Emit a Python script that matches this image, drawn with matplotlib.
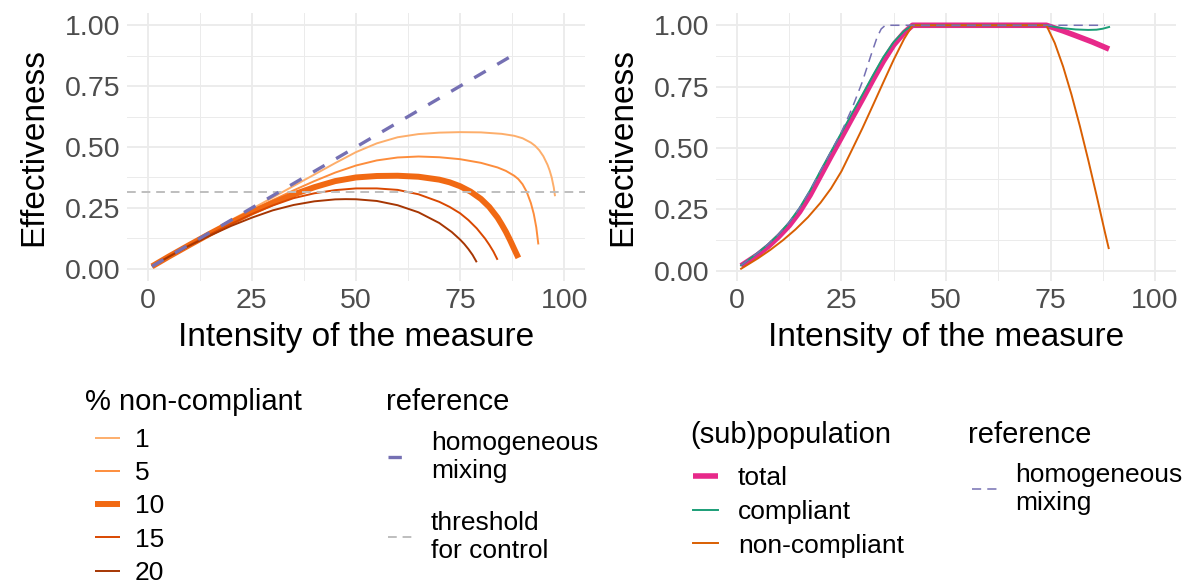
import matplotlib
matplotlib.use("Agg")
import matplotlib.pyplot as plt
from matplotlib.ticker import MultipleLocator

plt.rcParams["font.family"] = ["Liberation Sans", "DejaVu Sans"]

# ---- left panel: effectiveness by % non-compliant ----
nc_levels = ["1", "5", "10", "15", "20"]
nc_colors = ["#FDAE6B", "#FD8D3C", "#F16913", "#D94801", "#A63603"]
nc_widths = [1.4, 1.4, 4.3, 1.4, 1.4]

nc1_x = [1, 5, 10, 15, 20, 25, 30, 35, 40, 45, 50, 55, 60, 65, 70, 75, 80, 85, 88, 90,
         92, 93, 94, 95, 96, 96.5, 97, 97.5, 97.8]
nc1_y = [0.01, 0.05, 0.10, 0.15, 0.20, 0.246, 0.293, 0.34, 0.387, 0.434, 0.479, 0.515, 0.54,
         0.553, 0.559, 0.561, 0.56, 0.554, 0.546, 0.536, 0.518, 0.505, 0.487, 0.462, 0.427,
         0.404, 0.375, 0.334, 0.298]
nc5_x = [1, 5, 10, 15, 20, 25, 30, 35, 40, 45, 50, 55, 60, 65, 70, 75, 80, 84, 86, 88, 89,
         90, 91, 92, 92.7, 93.3, 93.8]
nc5_y = [0.01, 0.05, 0.10, 0.148, 0.195, 0.24, 0.282, 0.322, 0.36, 0.395, 0.424, 0.445,
         0.457, 0.461, 0.458, 0.45, 0.435, 0.416, 0.402, 0.382, 0.368, 0.347, 0.316, 0.27,
         0.225, 0.17, 0.10]
nc10_x = [1, 5, 10, 15, 20, 25, 30, 35, 40, 45, 50, 55, 60, 65, 70, 72.5, 75, 77.5, 80, 82,
          84, 85, 86, 87, 88, 89]
nc10_y = [0.01, 0.05, 0.098, 0.145, 0.19, 0.232, 0.27, 0.305, 0.335, 0.36, 0.375, 0.381,
          0.382, 0.378, 0.366, 0.355, 0.339, 0.317, 0.287, 0.254, 0.21, 0.182, 0.152, 0.118,
          0.081, 0.045]
nc15_x = [1, 5, 10, 15, 20, 25, 30, 35, 40, 45, 50, 55, 60, 65, 70, 72.5, 75, 77, 79, 81,
          82, 83, 84]
nc15_y = [0.01, 0.05, 0.097, 0.142, 0.184, 0.225, 0.26, 0.29, 0.31, 0.323, 0.33, 0.33,
          0.324, 0.306, 0.275, 0.254, 0.228, 0.20, 0.166, 0.124, 0.099, 0.071, 0.037]
nc20_x = [1, 5, 10, 15, 20, 25, 30, 35, 40, 45, 47.5, 50, 55, 60, 65, 70, 73, 75, 76, 77,
          78, 79]
nc20_y = [0.01, 0.049, 0.095, 0.137, 0.176, 0.21, 0.24, 0.262, 0.277, 0.285, 0.286, 0.2855,
          0.2785, 0.261, 0.232, 0.188, 0.151, 0.12, 0.102, 0.081, 0.057, 0.027]

homog_left_x = [1, 89]
homog_left_y = [0.01, 0.89]
threshold = 0.314

# ---- right panel: by (sub)population ----
total_x = [1, 5, 7.5, 10, 12.5, 15, 17.5, 20, 22.5, 25, 27.5, 30, 32.5, 35, 37.5, 40, 42,
           74, 78, 81, 85, 89]
total_y = [0.02, 0.065, 0.099, 0.139, 0.184, 0.24, 0.308, 0.387, 0.466, 0.543, 0.621, 0.698,
           0.777, 0.853, 0.92, 0.97, 1.0, 1.0, 0.977, 0.958, 0.932, 0.903]
compliant_x = [1, 5, 7.5, 10, 12.5, 15, 17.5, 20, 22.5, 25, 27.5, 30, 32.5, 35, 37.5, 40, 42,
               74, 76, 78, 81, 84, 86, 87.5, 89]
compliant_y = [0.022, 0.073, 0.108, 0.149, 0.197, 0.256, 0.327, 0.407, 0.485, 0.562, 0.64,
               0.717, 0.795, 0.87, 0.932, 0.977, 1.0, 1.0, 0.993, 0.988, 0.983, 0.981, 0.982,
               0.986, 0.993]
noncomp_x = [1, 5, 8, 11, 14, 17, 20, 22.5, 25, 27.5, 30, 32.5, 35, 37.5, 40, 42, 74, 76, 78,
             80, 82, 84, 86, 88, 88.9]
noncomp_y = [0.008, 0.05, 0.085, 0.124, 0.168, 0.218, 0.277, 0.335, 0.405, 0.492, 0.58,
             0.673, 0.767, 0.86, 0.945, 1.0, 1.0, 0.928, 0.832, 0.718, 0.59, 0.452, 0.307,
             0.157, 0.092]
homog_right_x = [1, 5, 7.5, 10, 12.5, 15, 17.5, 20, 22.5, 25, 27.5, 30, 32, 33.5, 34.5, 35.5,
                 88]
homog_right_y = [0.022, 0.073, 0.108, 0.149, 0.197, 0.256, 0.327, 0.407, 0.485, 0.565, 0.66,
                 0.77, 0.875, 0.95, 0.985, 1.0, 1.0]

PURPLE = "#7570B3"
GREY = "#BEBEBE"
W, H = 1191, 587


def style_axis(ax, ylim):
    ax.set_xlim(-5, 105)
    ax.set_ylim(*ylim)
    ax.xaxis.set_major_locator(MultipleLocator(25))
    ax.xaxis.set_minor_locator(MultipleLocator(12.5))
    ax.yaxis.set_major_locator(MultipleLocator(0.25))
    ax.yaxis.set_minor_locator(MultipleLocator(0.125))
    ax.yaxis.set_major_formatter(lambda v, p: f"{v:.2f}")
    ax.grid(which="major", color="#EBEBEB", lw=1.3)
    ax.grid(which="minor", color="#EBEBEB", lw=0.7)
    ax.set_axisbelow(True)
    for s in ax.spines.values():
        s.set_visible(False)
    ax.tick_params(which="both", length=0, labelsize=20.5, labelcolor="#4D4D4D", pad=5)
    ax.set_xlabel("Intensity of the measure", fontsize=24, labelpad=6)
    ax.set_ylabel("Effectiveness", fontsize=24, labelpad=11)


fig = plt.figure(figsize=(W / 100, H / 100), dpi=100)
ax1 = fig.add_axes([127 / W, 1 - 281 / H, 458 / W, 268 / H])
ax2 = fig.add_axes([716 / W, 1 - 281 / H, 460 / W, 268 / H])

curves = [(nc1_x, nc1_y), (nc5_x, nc5_y), (nc10_x, nc10_y), (nc15_x, nc15_y), (nc20_x, nc20_y)]
nc_lines = []
for (cx, cy), lab, col, lw in zip(curves, nc_levels, nc_colors, nc_widths):
    ln, = ax1.plot(cx, cy, color=col, lw=lw, solid_capstyle="butt", label=lab)
    nc_lines.append(ln)
thr_line = ax1.axhline(threshold, color=GREY, lw=1.4, dashes=(4.5, 3))
homog_l, = ax1.plot(homog_left_x, homog_left_y, color=PURPLE, lw=2.4, dashes=(4, 4))
style_axis(ax1, (-0.05, 1.05))

tot_line, = ax2.plot(total_x, total_y, color="#E7298A", lw=4.0, solid_capstyle="butt")
comp_line, = ax2.plot(compliant_x, compliant_y, color="#1B9E77", lw=1.4)
nonc_line, = ax2.plot(noncomp_x, noncomp_y, color="#D95F02", lw=1.4)
homog_r, = ax2.plot(homog_right_x, homog_right_y, color=PURPLE, lw=1.1, dashes=(6, 4))
style_axis(ax2, (-0.042, 1.05))

# legends: titles as separate text so the gap to the first key can be set freely
leg_kw = dict(loc="upper left", frameon=False, fontsize=19, borderpad=0,
              borderaxespad=0, handlelength=0.95)
title_kw = dict(fontsize=21, va="center", ha="left")

fig.text(85 / W, 1 - 402 / H, "% non-compliant", **title_kw)
fig.legend(nc_lines, nc_levels, bbox_to_anchor=(95 / W, 1 - 428 / H),
           labelspacing=0.35, handletextpad=0.57, **leg_kw)

fig.text(386 / W, 1 - 402 / H, "reference", **title_kw)
fig.legend([homog_l, thr_line], ["homogeneous\nmixing", "threshold\nfor control"],
           bbox_to_anchor=(388 / W, 1 - 431 / H), labelspacing=1.08,
           handletextpad=0.68, **leg_kw)

fig.text(690 / W, 1 - 435 / H, "(sub)population", **title_kw)
fig.legend([tot_line, comp_line, nonc_line], ["total", "compliant", "non-compliant"],
           bbox_to_anchor=(693 / W, 1 - 466 / H), labelspacing=0.37,
           handletextpad=0.75, **leg_kw)

fig.text(968 / W, 1 - 435 / H, "reference", **title_kw)
fig.legend([homog_r], ["homogeneous\nmixing"], bbox_to_anchor=(972 / W, 1 - 463 / H),
           handletextpad=0.68, **leg_kw)

fig.savefig("out.png", dpi=100)
